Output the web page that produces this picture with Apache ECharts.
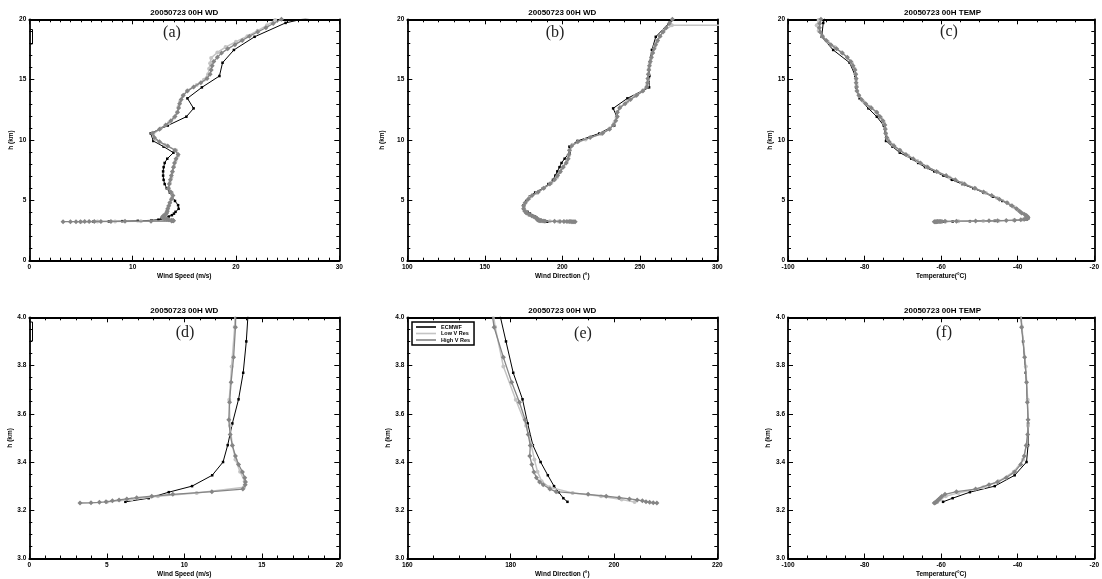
<!DOCTYPE html>
<html><head><meta charset="utf-8">
<script src="https://cdn.jsdelivr.net/npm/echarts@6/dist/echarts.min.js"></script>
<style>html,body{margin:0;padding:0;background:#fff}#c{width:1102px;height:579px}</style>
</head><body><div id="c"></div><script>
// ---------------- DATA ----------------
const seriesNames = ['ECMWF', 'Low V Res', 'High V Res'];

// ECMWF levels (km) and values
const hEC = [3.235,3.25,3.275,3.30,3.345,3.40,3.47,3.56,3.66,3.77,3.90,4.05,4.30,4.60,4.95,5.30,5.65,6.00,6.35,6.70,7.05,7.40,7.75,8.10,8.45,8.95,9.45,9.92,10.55,11.20,11.93,12.62,13.45,14.36,15.30,16.40,17.46,18.55,19.70,20.60];
const speedEC = [6.2,7.7,9.0,10.5,11.8,12.5,12.8,13.1,13.5,13.8,14.0,14.15,14.45,14.4,14.1,13.85,13.6,13.3,13.1,13.0,12.95,12.95,13.0,13.1,13.35,13.95,13.0,12.0,11.75,13.4,15.2,15.9,15.3,16.7,18.4,18.7,19.8,21.8,24.8,29.5];
const dirEC = [191.0,190.2,189.3,188.4,187.2,185.8,184.3,183.3,182.3,180.5,179.1,177.5,175.0,175.0,176.8,179.0,182.5,187.5,191.0,194.0,195.5,196.8,198.2,199.5,201.5,204.6,204.6,209.8,224.0,233.5,235.2,232.8,242.0,256.0,256.2,256.3,257.8,260.3,269.0,275.0];
const tempEC = [-59.5,-57.0,-52.5,-46.0,-40.8,-37.7,-37.3,-37.3,-37.5,-37.9,-38.6,-39.4,-40.4,-41.8,-44.0,-46.4,-49.0,-51.6,-54.5,-57.2,-59.4,-61.8,-64.2,-66.0,-67.8,-70.8,-72.7,-74.4,-74.6,-75.0,-76.8,-79.0,-81.3,-82.2,-82.4,-83.9,-88.2,-91.2,-90.8,-90.0];

// Low vertical resolution levels (km) and values
const hLow = [3.234,3.245,3.258,3.272,3.295,3.32,3.36,3.41,3.47,3.55,3.658,3.796,3.96,4.15,4.45,4.8,5.2,5.6,6.0,6.45,6.9,7.35,7.8,8.25,8.7,9.15,9.6,10.05,10.5,10.95,11.4,11.85,12.3,12.75,13.2,13.65,14.1,14.55,15.0,15.45,15.9,16.35,16.8,17.25,17.7,18.15,18.6,19.05,19.5,19.95];
const speedLow = [5.0,6.6,8.3,10.8,13.85,13.9,13.6,13.3,13.1,12.95,12.9,13.05,13.25,13.35,13.45,13.6,13.8,13.8,13.5,13.6,13.75,13.85,14.0,14.15,14.4,14.2,13.1,12.2,12.0,12.7,13.5,14.0,14.3,14.45,14.6,14.85,15.3,16.2,16.9,17.3,17.4,17.5,17.6,18.2,19.0,20.0,21.1,22.1,23.0,23.8];
const dirLow = [204.0,201.5,197.5,192.0,187.5,186.0,185.2,184.6,184.0,183.0,181.0,178.6,177.0,175.8,175.3,176.3,178.8,183.5,188.0,193.0,196.5,198.6,200.8,203.0,204.2,204.8,206.5,215.0,225.0,230.5,233.5,235.0,235.5,237.5,242.0,247.0,252.0,254.8,255.3,255.6,255.9,256.5,257.4,258.4,259.6,261.2,263.2,265.4,270.7,2000];
const tempLow = [-61.0,-60.2,-58.8,-55.5,-49.0,-45.0,-41.0,-38.6,-37.7,-37.3,-37.4,-37.9,-38.9,-39.8,-41.0,-42.7,-45.4,-48.3,-51.1,-54.6,-57.8,-60.9,-63.8,-66.2,-68.6,-70.7,-72.6,-73.9,-74.4,-74.6,-74.9,-75.7,-76.9,-78.6,-80.3,-81.4,-82.0,-82.1,-82.2,-82.3,-82.6,-83.3,-84.5,-86.0,-87.8,-89.6,-91.0,-92.0,-92.5,-92.0];

// High vertical resolution levels (km) and values
const hHigh = [3.230,3.231,3.233,3.235,3.239,3.243,3.247,3.252,3.258,3.266,3.277,3.288,3.306,3.317,3.335,3.359,3.390,3.425,3.469,3.514,3.575,3.648,3.731,3.834,3.959,4.10,4.30,4.55,4.80,5.10,5.40,5.70,6.00,6.35,6.70,7.05,7.40,7.75,8.10,8.45,8.80,9.15,9.50,9.85,10.20,10.55,10.90,11.25,11.60,11.95,12.30,12.65,13.00,13.35,13.70,14.05,14.40,14.75,15.10,15.45,15.80,16.15,16.50,16.85,17.20,17.55,17.90,18.25,18.60,18.95,19.30,19.65,20.00];
const speedHigh = [3.27,3.98,4.52,4.95,5.36,5.79,6.29,6.93,7.90,9.26,11.78,13.78,13.93,13.95,13.90,13.75,13.50,13.30,13.10,12.96,12.87,12.92,13.02,13.18,13.30,13.35,13.4,13.5,13.6,13.75,13.9,13.7,13.45,13.55,13.65,13.75,13.85,13.95,14.05,14.2,14.4,14.1,13.4,12.6,12.1,11.9,12.6,13.2,13.7,14.1,14.35,14.45,14.55,14.7,14.9,15.3,15.9,16.6,17.2,17.5,17.6,17.7,17.85,18.2,18.6,19.2,19.9,20.6,21.3,22.1,22.9,23.6,24.4];
const dirHigh = [208.3,207.6,206.9,206.2,205.5,204.5,203.0,201.0,198.5,195.0,188.8,187.6,186.3,185.6,185.0,184.5,184.1,183.7,183.8,183.4,182.8,181.7,180.2,178.6,176.8,175.8,175.0,175.0,176.0,178.0,180.5,184.5,188.0,192.0,195.0,197.0,198.8,200.5,202.5,203.8,204.3,204.6,206.0,210.0,218.0,226.0,230.5,233.0,234.5,235.5,235.5,237.0,240.5,244.0,248.0,252.0,254.5,255.0,255.2,255.5,255.8,256.2,256.8,257.5,258.3,259.2,260.2,261.5,263.0,265.0,267.0,269.0,271.0];
const tempHigh = [-61.8,-61.6,-61.4,-61.2,-61.0,-60.8,-60.5,-60.2,-59.8,-59.0,-56.0,-51.0,-47.5,-45.3,-43.0,-40.8,-39.2,-38.3,-37.8,-37.4,-37.3,-37.5,-37.7,-38.2,-39.0,-39.5,-40.3,-41.5,-42.8,-44.8,-46.8,-48.9,-51.2,-53.9,-56.3,-58.7,-61.2,-63.5,-65.4,-67.3,-69.2,-70.8,-72.3,-73.6,-74.2,-74.5,-74.6,-74.7,-75.2,-76.0,-76.8,-78.2,-79.7,-80.8,-81.5,-82.0,-82.1,-82.2,-82.2,-82.3,-82.5,-83.0,-83.6,-84.5,-85.8,-87.3,-88.8,-90.0,-91.0,-91.6,-91.8,-91.7,-91.4];

// Panel texts
const titles = ['20050723 00H WD','20050723 00H WD','20050723 00H TEMP','20050723 00H WD','20050723 00H WD','20050723 00H TEMP'];
const letters = ['(a)','(b)','(c)','(d)','(e)','(f)'];
const xNames = ['Wind Speed (m/s)','Wind Direction (°)','Temperature(°C)','Wind Speed (m/s)','Wind Direction (°)','Temperature(°C)'];
const yName = 'h (km)';

// ---------------- LAYOUT ----------------
const variables = {
  speed: [[hEC, speedEC], [hLow, speedLow], [hHigh, speedHigh]],
  dir:   [[hEC, dirEC],   [hLow, dirLow],   [hHigh, dirHigh]],
  temp:  [[hEC, tempEC],  [hLow, tempLow],  [hHigh, tempHigh]]
};
const panels = [
  {left:29.3, top:19.3, width:310, height:241.4, v:'speed', x:[0,30,10,10], y:[0,20,5,5], yGap:14, letter:[172,32.5]},
  {left:407.3, top:19.3, width:310, height:241.4, v:'dir', x:[100,300,50,5], y:[0,20,5,5], yGap:22, letter:[555,32.5]},
  {left:788, top:19.3, width:309, height:241.4, v:'temp', x:[-100,-20,20,4], y:[0,20,5,5], yGap:13.5, letter:[949,32]},
  {left:29.3, top:317.3, width:310, height:241.7, v:'speed', x:[0,20,5,5], y:[3,4,0.2,4], yGap:14, letter:[185,332.5]},
  {left:407.3, top:317.3, width:310, height:241.7, v:'dir', x:[160,220,20,4], y:[3,4,0.2,4], yGap:13, letter:[583,334]},
  {left:788, top:317.3, width:309, height:241.7, v:'temp', x:[-100,-20,20,4], y:[3,4,0.2,4], yGap:13.5, letter:[944,332.5]}
];

const FONT = '"Liberation Sans", "DejaVu Sans", sans-serif';
const styles = [
  {color:'#000000', width:1, symbol:'rect', size:2.5},
  {color:'#c4c4c4', width:1.5, symbol:'circle', size:4},
  {color:'#858585', width:1.3, symbol:'diamond', size:5}
];

const grids = [], xAxes = [], yAxes = [], series = [], graphics = [];
function axisCommon(min, max, interval, minorSplit, pos, showLabel, fmt) {
  return {
    type:'value', min:min, max:max, interval:interval, position:pos,
    axisLine:{show:true, onZero:false, lineStyle:{color:'#000', width:1.8}},
    axisTick:{show:true, inside:true, length:5, lineStyle:{color:'#000', width:1}},
    minorTick:{show:true, splitNumber:minorSplit, length:3, lineStyle:{color:'#000', width:1}},
    splitLine:{show:false}, minorSplitLine:{show:false},
    axisLabel:{show:showLabel, fontSize:6.5, fontWeight:'bold', fontFamily:FONT, color:'#000', margin:3, formatter:fmt}
  };
}
panels.forEach((p, i) => {
  grids.push({left:p.left, top:p.top, width:p.width, height:p.height, containLabel:false});
  const yfmt = p.y[2] < 1 ? (v => v.toFixed(1)) : (v => String(v));
  const xb = axisCommon(p.x[0], p.x[1], p.x[2], p.x[3], 'bottom', true, v => String(v));
  Object.assign(xb, {gridIndex:i, name:xNames[i], nameLocation:'middle', nameGap:12.5,
    nameTextStyle:{fontSize:6.5, fontWeight:'bold', fontFamily:FONT, color:'#000'}});
  const xt = axisCommon(p.x[0], p.x[1], p.x[2], p.x[3], 'top', false);
  xt.gridIndex = i;
  xAxes.push(xb, xt);
  const yl = axisCommon(p.y[0], p.y[1], p.y[2], p.y[3], 'left', true, yfmt);
  Object.assign(yl, {gridIndex:i, name:yName, nameLocation:'middle', nameGap:p.yGap,
    nameTextStyle:{fontSize:6.5, fontWeight:'bold', fontFamily:FONT, color:'#000'}});
  const yr = axisCommon(p.y[0], p.y[1], p.y[2], p.y[3], 'right', false);
  yr.gridIndex = i;
  yAxes.push(yl, yr);

  variables[p.v].forEach((pair, k) => {
    const hs = pair[0], xs = pair[1];
    const st = styles[k];
    series.push({
      name: seriesNames[k], type:'line', xAxisIndex:2*i, yAxisIndex:2*i,
      data: hs.map((h, j) => [xs[j], h]),
      clip:true, silent:true, animation:false,
      symbol:st.symbol, symbolSize:st.size, showSymbol:true,
      lineStyle:{color:st.color, width:st.width},
      itemStyle:{color:st.color, borderWidth:0},
      z: 2 + k
    });
  });

  graphics.push({type:'text', x:p.left + p.width/2, y:p.top - 6.5, silent:true,
    style:{text:titles[i], font:'bold 8px ' + FONT, fill:'#000', align:'center', verticalAlign:'middle', textAlign:'center', textVerticalAlign:'middle'}});
  graphics.push({type:'text', x:p.letter[0], y:p.letter[1], silent:true,
    style:{text:letters[i], font:'16px "Liberation Serif", "DejaVu Serif", serif', fill:'#222', align:'center', verticalAlign:'middle', textAlign:'center', textVerticalAlign:'middle'}});
});
// small bracket marks near top-left of (a) and (d)
graphics.push({type:'polyline', silent:true, shape:{points:[[30,29.5],[32.5,29.5],[32.5,44],[30,44]]}, style:{stroke:'#000', lineWidth:1, fill:null}});
graphics.push({type:'polyline', silent:true, shape:{points:[[30,322],[32.5,322],[32.5,341],[30,341]]}, style:{stroke:'#000', lineWidth:1, fill:null}});

const chart = echarts.init(document.getElementById('c'), null, {renderer:'canvas'});
chart.setOption({
  animation:false,
  backgroundColor:'#fff',
  grid:grids, xAxis:xAxes, yAxis:yAxes, series:series,
  legend:{
    data:seriesNames, orient:'vertical', left:412, top:322, selectedMode:false,
    icon:'rect', itemWidth:20, itemHeight:1.6, itemGap:0.5,
    padding:[2,4,2,4], borderColor:'#000', borderWidth:1.5, backgroundColor:'#fff',
    textStyle:{fontSize:5.5, fontWeight:'bold', fontFamily:FONT, color:'#000', lineHeight:6}
  },
  graphic:graphics
});
</script></body></html>
